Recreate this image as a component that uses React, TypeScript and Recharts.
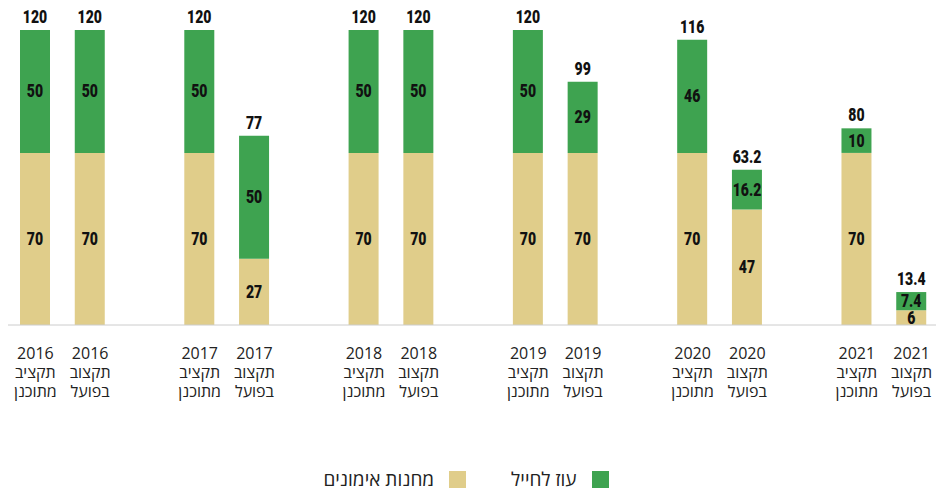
import React from 'react';
import { BarChart, Bar, XAxis, YAxis, LabelList } from 'recharts';

const years = ['2016', '2017', '2018', '2019', '2020', '2021'];
const plannedCamps = [70, 70, 70, 70, 70, 70];
const plannedOz = [50, 50, 50, 50, 46, 10];
const plannedTotal = [120, 120, 120, 120, 116, 80];
const actualCamps = [70, 27, 70, 70, 47, 6];
const actualOz = [50, 50, 50, 29, 16.2, 7.4];
const actualTotal = [120, 77, 120, 99, 63.2, 13.4];
const plannedLines = ['תקציב', 'מתוכנן'];
const actualLines = ['תקצוב', 'בפועל'];
const campsName = 'מחנות אימונים';
const ozName = 'עוז לחייל';

const TAN = '#e0cd8a';
const GREEN = '#3ea350';
const VALUE_FONT = "Roboto, 'DejaVu Sans', sans-serif";
const TEXT_FONT = "'Open Sans', 'Noto Sans', 'DejaVu Sans', sans-serif";

type Row = {
    id: string;
    year?: string;
    lines?: string[];
    camps?: number | null;
    oz?: number | null;
    total?: number | null;
};

const rows: Row[] = [];
years.forEach((year, i) => {
    rows.push({ id: `p${i}`, year, lines: plannedLines, camps: plannedCamps[i], oz: plannedOz[i], total: plannedTotal[i] });
    rows.push({ id: `a${i}`, year, lines: actualLines, camps: actualCamps[i], oz: actualOz[i], total: actualTotal[i] });
    if (i < years.length - 1) rows.push({ id: `g${i}`, camps: null, oz: null, total: null });
});

const byId: Record<string, Row> = {};
rows.forEach((r) => { byId[r.id] = r; });

// narrow heavy digits, squeezed horizontally like the original condensed face
const ValueText = ({ cx, cy, value }: { cx: number; cy: number; value: any }) => (
    <text transform={`translate(${cx},${cy}) scale(0.78,1)`} textAnchor="middle"
        fontFamily={VALUE_FONT} fontWeight={900} fontSize={18} fill="#111">
        {value}
    </text>
);

const CenterLabel = (props: any) => {
    const { x, y, width, height, value } = props;
    if (value === null || value === undefined) return null;
    return <ValueText cx={x + width / 2} cy={y + height / 2 + 6} value={value} />;
};

const TopLabel = (props: any) => {
    const { x, y, width, value } = props;
    if (value === null || value === undefined) return null;
    return <ValueText cx={x + width / 2} cy={y - 7} value={value} />;
};

const YearTick = (props: any) => {
    const { x, y, payload } = props;
    const row = byId[payload.value];
    if (!row || !row.year) return null;
    return (
        <text x={x} y={y} textAnchor="middle" fontFamily={TEXT_FONT} fontSize={16} fill="#222">
            <tspan x={x} dy={34}>{row.year}</tspan>
            {row.lines!.map((l, i) => (
                <tspan key={i} x={x} dy={19}>{l}</tspan>
            ))}
        </text>
    );
};

export default function App() {
    return (
        <div style={{ position: 'fixed', top: 0, left: 0, width: 936, height: 488, overflow: 'hidden', background: '#fff' }}>
            <BarChart width={940} height={488} data={rows} margin={{ top: 30, right: 1, bottom: 83, left: 8 }} barSize={30}>
                <XAxis dataKey="id" interval={0} tick={<YearTick />} tickLine={false} tickSize={0} tickMargin={0}
                    height={80} axisLine={{ stroke: '#cccccc' }} />
                <YAxis hide domain={[0, 120]} />
                <Bar dataKey="camps" stackId="s" fill={TAN} isAnimationActive={false}>
                    <LabelList dataKey="camps" content={<CenterLabel />} />
                </Bar>
                <Bar dataKey="oz" stackId="s" fill={GREEN} isAnimationActive={false}>
                    <LabelList dataKey="oz" content={<CenterLabel />} />
                    <LabelList dataKey="total" content={<TopLabel />} />
                </Bar>
            </BarChart>
            <div style={{ position: 'absolute', top: 470, left: 0, width: 932, display: 'flex', justifyContent: 'center',
                direction: 'rtl', fontFamily: TEXT_FONT, fontSize: 19, color: '#222', lineHeight: '18px' }}>
                <div style={{ display: 'flex', alignItems: 'center', marginLeft: 45 }}>
                    <span style={{ width: 17, height: 17, background: GREEN, marginLeft: 15 }} />
                    <span>{ozName}</span>
                </div>
                <div style={{ display: 'flex', alignItems: 'center' }}>
                    <span style={{ width: 17, height: 17, background: TAN, marginLeft: 15 }} />
                    <span>{campsName}</span>
                </div>
            </div>
        </div>
    );
}
